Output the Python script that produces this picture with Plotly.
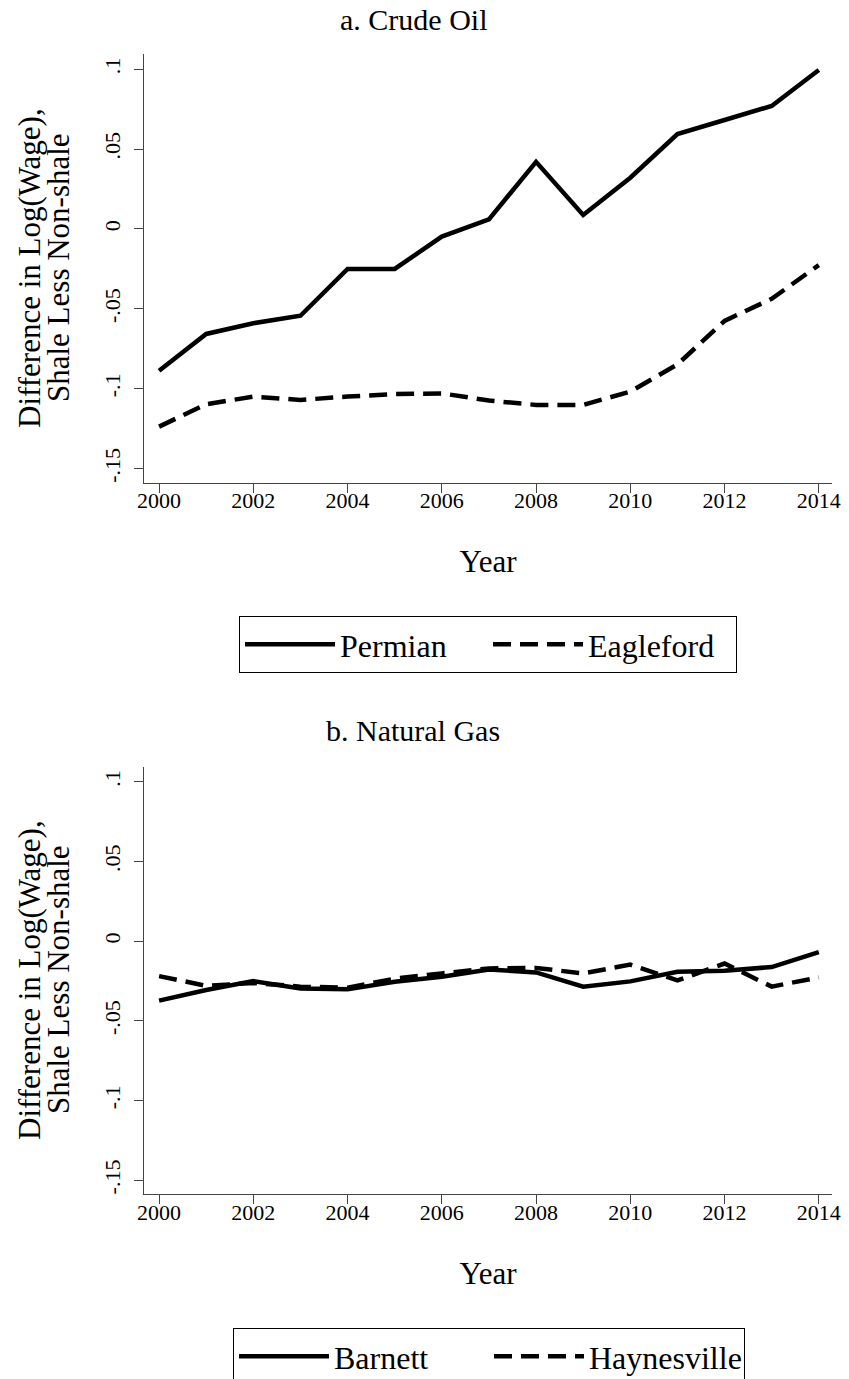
import plotly.graph_objects as go

years = list(range(2000, 2015))

# Panel a: Crude Oil
permian = [-0.0887, -0.0657, -0.0590, -0.0543, -0.0250, -0.0250, -0.0048, 0.0060,
           0.0420, 0.0088, 0.0321, 0.0594, 0.0682, 0.0770, 0.0995]
eagleford = [-0.1237, -0.1097, -0.1049, -0.1070, -0.1049, -0.1033, -0.1029, -0.1074,
             -0.1101, -0.1101, -0.1018, -0.0848, -0.0575, -0.0437, -0.0226]

# Panel b: Natural Gas
barnett = [-0.0373, -0.0306, -0.0250, -0.0296, -0.0302, -0.0254, -0.0223, -0.0177,
           -0.0196, -0.0285, -0.0252, -0.0192, -0.0185, -0.0162, -0.0068]
haynesville = [-0.0219, -0.0280, -0.0262, -0.0285, -0.0292, -0.0235, -0.0202, -0.0171,
               -0.0168, -0.0202, -0.0147, -0.0246, -0.0140, -0.0285, -0.0227]

y_tickvals = [0.1, 0.05, 0, -0.05, -0.1, -0.15]
y_ticktext = [".1", ".05", "0", "-.05", "-.1", "-.15"]
x_tickvals = list(range(2000, 2015, 2))

panel_titles = ["a. Crude Oil", "b. Natural Gas"]
ytitle_lines = ["Difference in Log(Wage),", "Shale Less Non-shale"]

FONT = "Liberation Serif, Times New Roman, serif"
W, H = 849, 1379

fig = go.Figure()

line_w = 4.5
dash = "18px,9px"

fig.add_trace(go.Scatter(x=years, y=permian, mode="lines", name="Permian",
                         line=dict(color="black", width=line_w), xaxis="x", yaxis="y",
                         legend="legend"))
fig.add_trace(go.Scatter(x=years, y=eagleford, mode="lines", name="Eagleford",
                         line=dict(color="black", width=line_w, dash=dash), xaxis="x", yaxis="y",
                         legend="legend"))
fig.add_trace(go.Scatter(x=years, y=barnett, mode="lines", name="Barnett",
                         line=dict(color="black", width=line_w), xaxis="x2", yaxis="y2",
                         legend="legend2"))
fig.add_trace(go.Scatter(x=years, y=haynesville, mode="lines", name="Haynesville",
                         line=dict(color="black", width=line_w, dash=dash), xaxis="x2", yaxis="y2",
                         legend="legend2"))

xdom = [144 / W, 832 / W]
top_dom = [1 - 482.7 / H, 1 - 54 / H]
bot_dom = [1 - 1194.3 / H, 1 - 766.7 / H]

axis_common = dict(showline=True, linecolor="#444", linewidth=1, ticks="outside",
                   ticklen=9, tickcolor="#444", tickwidth=1, showgrid=False,
                   zeroline=False, automargin=False,
                   tickfont=dict(family=FONT, size=22, color="black"))

xaxis_kw = dict(axis_common, range=[1999.68, 2014.28], tickvals=x_tickvals,
                ticklabelstandoff=-11,
                title=dict(text="Year", font=dict(family=FONT, size=31, color="black"),
                           standoff=38))
yaxis_kw = dict(axis_common, range=[-0.1588, 0.1095], tickvals=y_tickvals,
                ticktext=y_ticktext, tickangle=-90, ticklabelstandoff=5)

legend_common = dict(orientation="h", xanchor="center", yanchor="top",
                     bordercolor="black", borderwidth=1,
                     font=dict(family=FONT, size=32, color="black"),
                     itemwidth=90, tracegroupgap=0)

fig.update_layout(
    width=W, height=H,
    margin=dict(l=0, r=0, t=0, b=0, autoexpand=False),
    paper_bgcolor="white", plot_bgcolor="white",
    font=dict(family=FONT, color="black"),
    xaxis=dict(xaxis_kw, domain=xdom, anchor="y"),
    yaxis=dict(yaxis_kw, domain=top_dom, anchor="x"),
    xaxis2=dict(xaxis_kw, domain=xdom, anchor="y2"),
    yaxis2=dict(yaxis_kw, domain=bot_dom, anchor="x2"),
    legend=dict(legend_common, x=488 / W, y=1 - 616 / H, entrywidth=143),
    legend2=dict(legend_common, x=489 / W, y=1 - 1328 / H, entrywidth=150),
    showlegend=True,
)

annotations = []
# panel titles
for txt, ypx in zip(panel_titles, [20, 730]):
    annotations.append(dict(text=txt, x=413 / W, y=1 - ypx / H, xref="paper", yref="paper",
                            xanchor="center", yanchor="middle", showarrow=False,
                            font=dict(family=FONT, size=30, color="black")))
# y-axis titles (two lines each)
for center_px in [268, 980]:
    for line, xpx in zip(ytitle_lines, [29, 58]):
        annotations.append(dict(text=line, x=xpx / W, y=1 - center_px / H, xref="paper",
                                yref="paper", xanchor="center", yanchor="middle",
                                textangle=-90, showarrow=False,
                                font=dict(family=FONT, size=31, color="black")))
fig.update_layout(annotations=annotations)

fig.write_html("out.html", config={"displayModeBar": False},
               post_script="document.body.style.margin='0';document.body.style.overflow='hidden';")
